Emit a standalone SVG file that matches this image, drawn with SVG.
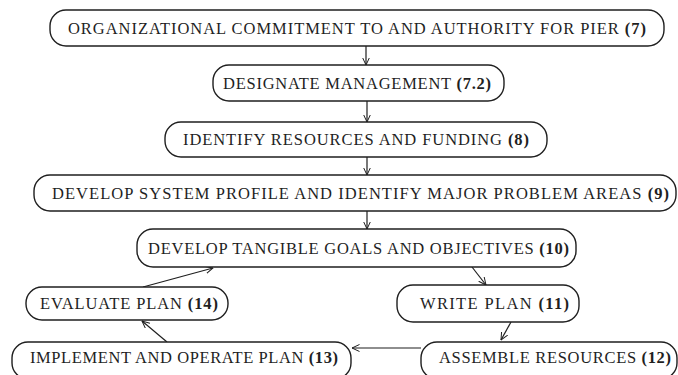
<svg xmlns="http://www.w3.org/2000/svg" width="678" height="375" viewBox="0 0 678 375">
  <style>
    .box { fill: #ffffff; stroke: #1f1f1f; stroke-width: 1.4; }
    .lbl { font-family: "Liberation Serif", "DejaVu Serif", serif; font-size: 16.5px; fill: #1f1f1f; }
    .num { font-weight: bold; }
    .edge { fill: none; stroke: #1f1f1f; stroke-width: 1.2; marker-end: url(#arr); }
  </style>
  <defs>
    <marker id="arr" viewBox="0 0 8 8" refX="7.5" refY="4" markerWidth="8" markerHeight="8" markerUnits="userSpaceOnUse" orient="auto">
      <path d="M0,0.5 L7.5,4 L0,7.5" fill="none" stroke="#1f1f1f" stroke-width="1"/>
    </marker>
  </defs>
  <rect width="678" height="375" fill="#ffffff"/>

  <g id="connectors">
    <path class="edge" d="M366,46 L366,65"/>
    <path class="edge" d="M367,101 L367,122"/>
    <path class="edge" d="M367,157 L367,175"/>
    <path class="edge" d="M367,211 L367,229"/>
    <path class="edge" d="M472,267 L486,285"/>
    <path class="edge" d="M511,322 L501,340"/>
    <path class="edge" d="M421,348 L352,348"/>
    <path class="edge" d="M167,342 L142,321"/>
    <path class="edge" d="M143,287 L213,268"/>
  </g>

  <g id="n7">
    <rect class="box" x="50" y="10" width="614" height="36" rx="16" ry="16"/>
    <text class="lbl" x="68" y="34" textLength="578" lengthAdjust="spacing">ORGANIZATIONAL COMMITMENT TO AND AUTHORITY FOR PIER <tspan class="num">(7)</tspan></text>
  </g>
  <g id="n7-2">
    <rect class="box" x="213" y="65" width="291" height="36" rx="16" ry="16"/>
    <text class="lbl" x="223" y="89" textLength="268" lengthAdjust="spacing">DESIGNATE MANAGEMENT <tspan class="num">(7.2)</tspan></text>
  </g>
  <g id="n8">
    <rect class="box" x="165" y="122" width="382" height="35" rx="16" ry="16"/>
    <text class="lbl" x="183" y="145" textLength="346" lengthAdjust="spacing">IDENTIFY RESOURCES AND FUNDING <tspan class="num">(8)</tspan></text>
  </g>
  <g id="n9">
    <rect class="box" x="34" y="175" width="642" height="36" rx="16" ry="16"/>
    <text class="lbl" x="52" y="199" textLength="617" lengthAdjust="spacing">DEVELOP SYSTEM PROFILE AND IDENTIFY MAJOR PROBLEM AREAS <tspan class="num">(9)</tspan></text>
  </g>
  <g id="n10">
    <rect class="box" x="137" y="229" width="439" height="38" rx="16" ry="16"/>
    <text class="lbl" x="148" y="254" textLength="421" lengthAdjust="spacing">DEVELOP TANGIBLE GOALS AND OBJECTIVES <tspan class="num">(10)</tspan></text>
  </g>
  <g id="n14">
    <rect class="box" x="26" y="287" width="202" height="33" rx="16" ry="16"/>
    <text class="lbl" x="40" y="309" textLength="178" lengthAdjust="spacing">EVALUATE PLAN <tspan class="num">(14)</tspan></text>
  </g>
  <g id="n11">
    <rect class="box" x="397" y="285" width="182" height="37" rx="16" ry="16"/>
    <text class="lbl" x="420" y="309" textLength="149" lengthAdjust="spacing">WRITE PLAN <tspan class="num">(11)</tspan></text>
  </g>
  <g id="n13">
    <rect class="box" x="12" y="342" width="339" height="37" rx="16" ry="16"/>
    <text class="lbl" x="30" y="363" textLength="308" lengthAdjust="spacing">IMPLEMENT AND OPERATE PLAN <tspan class="num">(13)</tspan></text>
  </g>
  <g id="n12">
    <rect class="box" x="421" y="342" width="256" height="37" rx="16" ry="16"/>
    <text class="lbl" x="439" y="363" textLength="232" lengthAdjust="spacing">ASSEMBLE RESOURCES <tspan class="num">(12)</tspan></text>
  </g>
</svg>
